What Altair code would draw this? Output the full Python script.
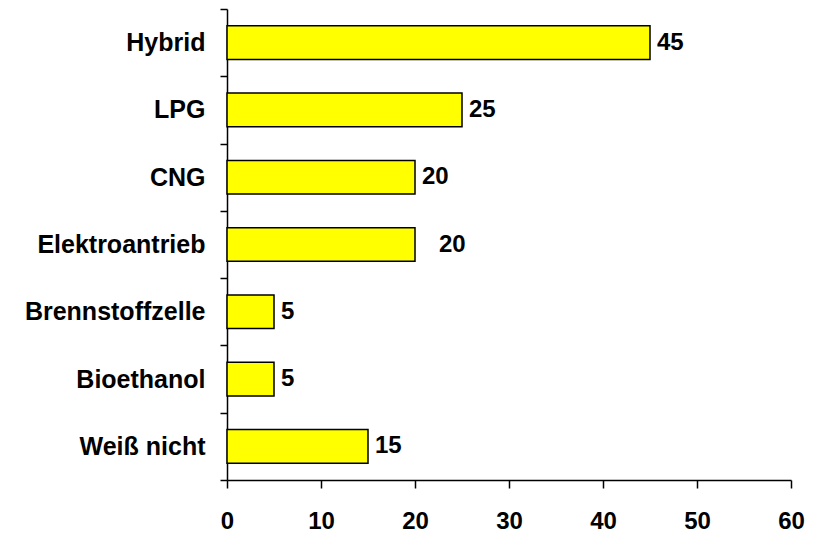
import altair as alt
import pandas as pd

categories = ["Hybrid", "LPG", "CNG", "Elektroantrieb", "Brennstoffzelle", "Bioethanol", "Weiß nicht"]
values = [45, 25, 20, 20, 5, 5, 15]
x_ticks = [0, 10, 20, 30, 40, 50, 60]

df = pd.DataFrame({"category": categories, "value": values})

FONT = "Liberation Sans"

y_enc = alt.Y("category:N", sort=categories, title=None,
              scale=alt.Scale(paddingInner=0, paddingOuter=0),
              axis=alt.Axis(tickBand="extent", tickSize=7, tickColor="black", tickWidth=1.5,
                            domainColor="black", domainWidth=1.5, labelPadding=15, labelLimit=400,
                            labelFont=FONT, labelFontSize=25, labelFontWeight="bold",
                            labelColor="black"))
x_enc = alt.X("value:Q", title=None,
              scale=alt.Scale(domain=[0, 60], nice=False),
              axis=alt.Axis(values=x_ticks, grid=False, tickSize=8, tickColor="black", tickWidth=1.5,
                            domainColor="black", domainWidth=1.5, labelPadding=21, labelFlush=False,
                            labelFont=FONT, labelFontSize=24, labelFontWeight="bold",
                            labelColor="black"))

base = alt.Chart(df)

bars = base.mark_bar(color="#FFFF00", stroke="black", strokeWidth=1.5,
                     height=alt.RelativeBandSize(0.5)).encode(x=x_enc, y=y_enc)

text_main = base.transform_filter(alt.datum.category != "Elektroantrieb").mark_text(
    align="left", baseline="middle", dx=7, font=FONT, fontSize=24, fontWeight="bold", color="black"
).encode(x="value:Q", y=alt.Y("category:N", sort=categories), text="value:Q")

text_e = base.transform_filter(alt.datum.category == "Elektroantrieb").mark_text(
    align="left", baseline="middle", dx=24, font=FONT, fontSize=24, fontWeight="bold", color="black"
).encode(x="value:Q", y=alt.Y("category:N", sort=categories), text="value:Q")

chart = alt.layer(bars, text_main, text_e).properties(
    width=564, height=471,
    autosize=alt.AutoSizeParams(type="none"),
    padding={"left": 219, "top": 1, "right": 14, "bottom": 58},
).configure(background="white").configure_view(stroke=None)

chart.save("out.html", embed_options={"renderer": "svg", "actions": False})
